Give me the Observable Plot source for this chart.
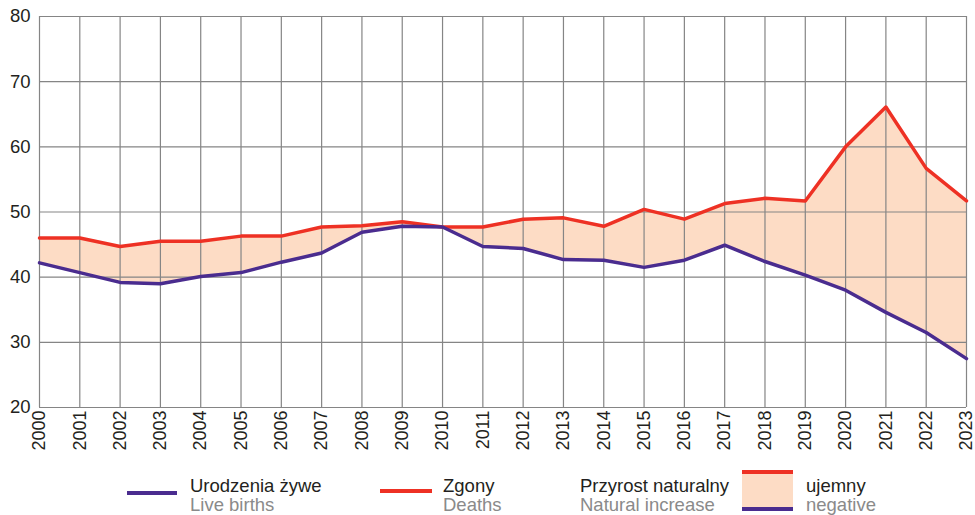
<!DOCTYPE html>
<html><head><meta charset="utf-8">
<script src="https://cdn.jsdelivr.net/npm/d3@7"></script>
<script src="https://cdn.jsdelivr.net/npm/@observablehq/plot@0.6"></script>
<style>
body{margin:0;background:#fff;font-family:"Liberation Sans",Arial,sans-serif;}
#wrap{position:relative;width:975px;height:515px;}
.lg{position:absolute;font-size:18.5px;line-height:19px;color:#231f20;white-space:nowrap;}
.lg .en{color:#8a8a8a;}
.sw{position:absolute;height:4px;}
</style></head><body>
<div id="wrap"><div id="chart"></div>
<div class="sw" style="left:127px;top:491px;width:50px;background:#4a2c8f"></div>
<div class="lg" style="left:190px;top:476px">Urodzenia żywe<br><span class="en">Live births</span></div>
<div class="sw" style="left:380px;top:489px;width:52px;background:#ee3124"></div>
<div class="lg" style="left:443px;top:476px">Zgony<br><span class="en">Deaths</span></div>
<div class="lg" style="left:580px;top:476px">Przyrost naturalny<br><span class="en">Natural increase</span></div>
<div style="position:absolute;left:742px;top:470px;width:51px;height:41px;background:#fddcc5;border-top:4px solid #ee3124;border-bottom:4px solid #4a2c8f;box-sizing:border-box"></div>
<div class="lg" style="left:806px;top:476px">ujemny<br><span class="en">negative</span></div>
</div>
<script>
const years = d3.range(2000, 2024);
const births = [42.2,40.7,39.2,39.0,40.1,40.7,42.3,43.7,46.9,47.8,47.7,44.7,44.4,42.7,42.6,41.5,42.6,44.9,42.4,40.3,38.0,34.6,31.5,27.5];
const deaths = [46.0,46.0,44.7,45.5,45.5,46.3,46.3,47.7,47.9,48.5,47.7,47.7,48.9,49.1,47.8,50.4,48.9,51.3,52.1,51.7,60.0,66.1,56.7,51.7];
const yTicks = [20,30,40,50,60,70,80];
const data = years.map((y,i)=>({year:y, births:births[i], deaths:deaths[i]}));

const chart = Plot.plot({
  width: 975, height: 460,
  marginLeft: 39, marginRight: 9, marginTop: 16, marginBottom: 53,
  style: {fontFamily: '"Liberation Sans", Arial, sans-serif', fontSize: "18px", color: "#231f20"},
  x: {domain: [2000, 2023], ticks: years, tickFormat: d => String(d), label: null},
  y: {domain: [20, 80], ticks: yTicks, label: null},
  marks: [
    Plot.areaY(data, {x: "year", y1: "births", y2: "deaths", fill: "#fddcc5"}),
    Plot.gridX(years, {stroke: "#858585", strokeOpacity: 1, strokeWidth: 1.2}),
    Plot.gridY(yTicks, {stroke: "#858585", strokeOpacity: 1, strokeWidth: 1.2}),
    Plot.axisY(yTicks, {tickSize: 0, tickPadding: 9, fontSize: 18.5, label: null}),
    Plot.axisX(years, {tickSize: 0, tickRotate: -90, tickPadding: 3, fontSize: 18, label: null, tickFormat: d => String(d)}),
    Plot.lineY(data, {x: "year", y: "deaths", stroke: "#ee3124", strokeWidth: 3.5}),
    Plot.lineY(data, {x: "year", y: "births", stroke: "#4a2c8f", strokeWidth: 3.5})
  ]
});
document.getElementById("chart").appendChild(chart);
</script>
</body></html>
